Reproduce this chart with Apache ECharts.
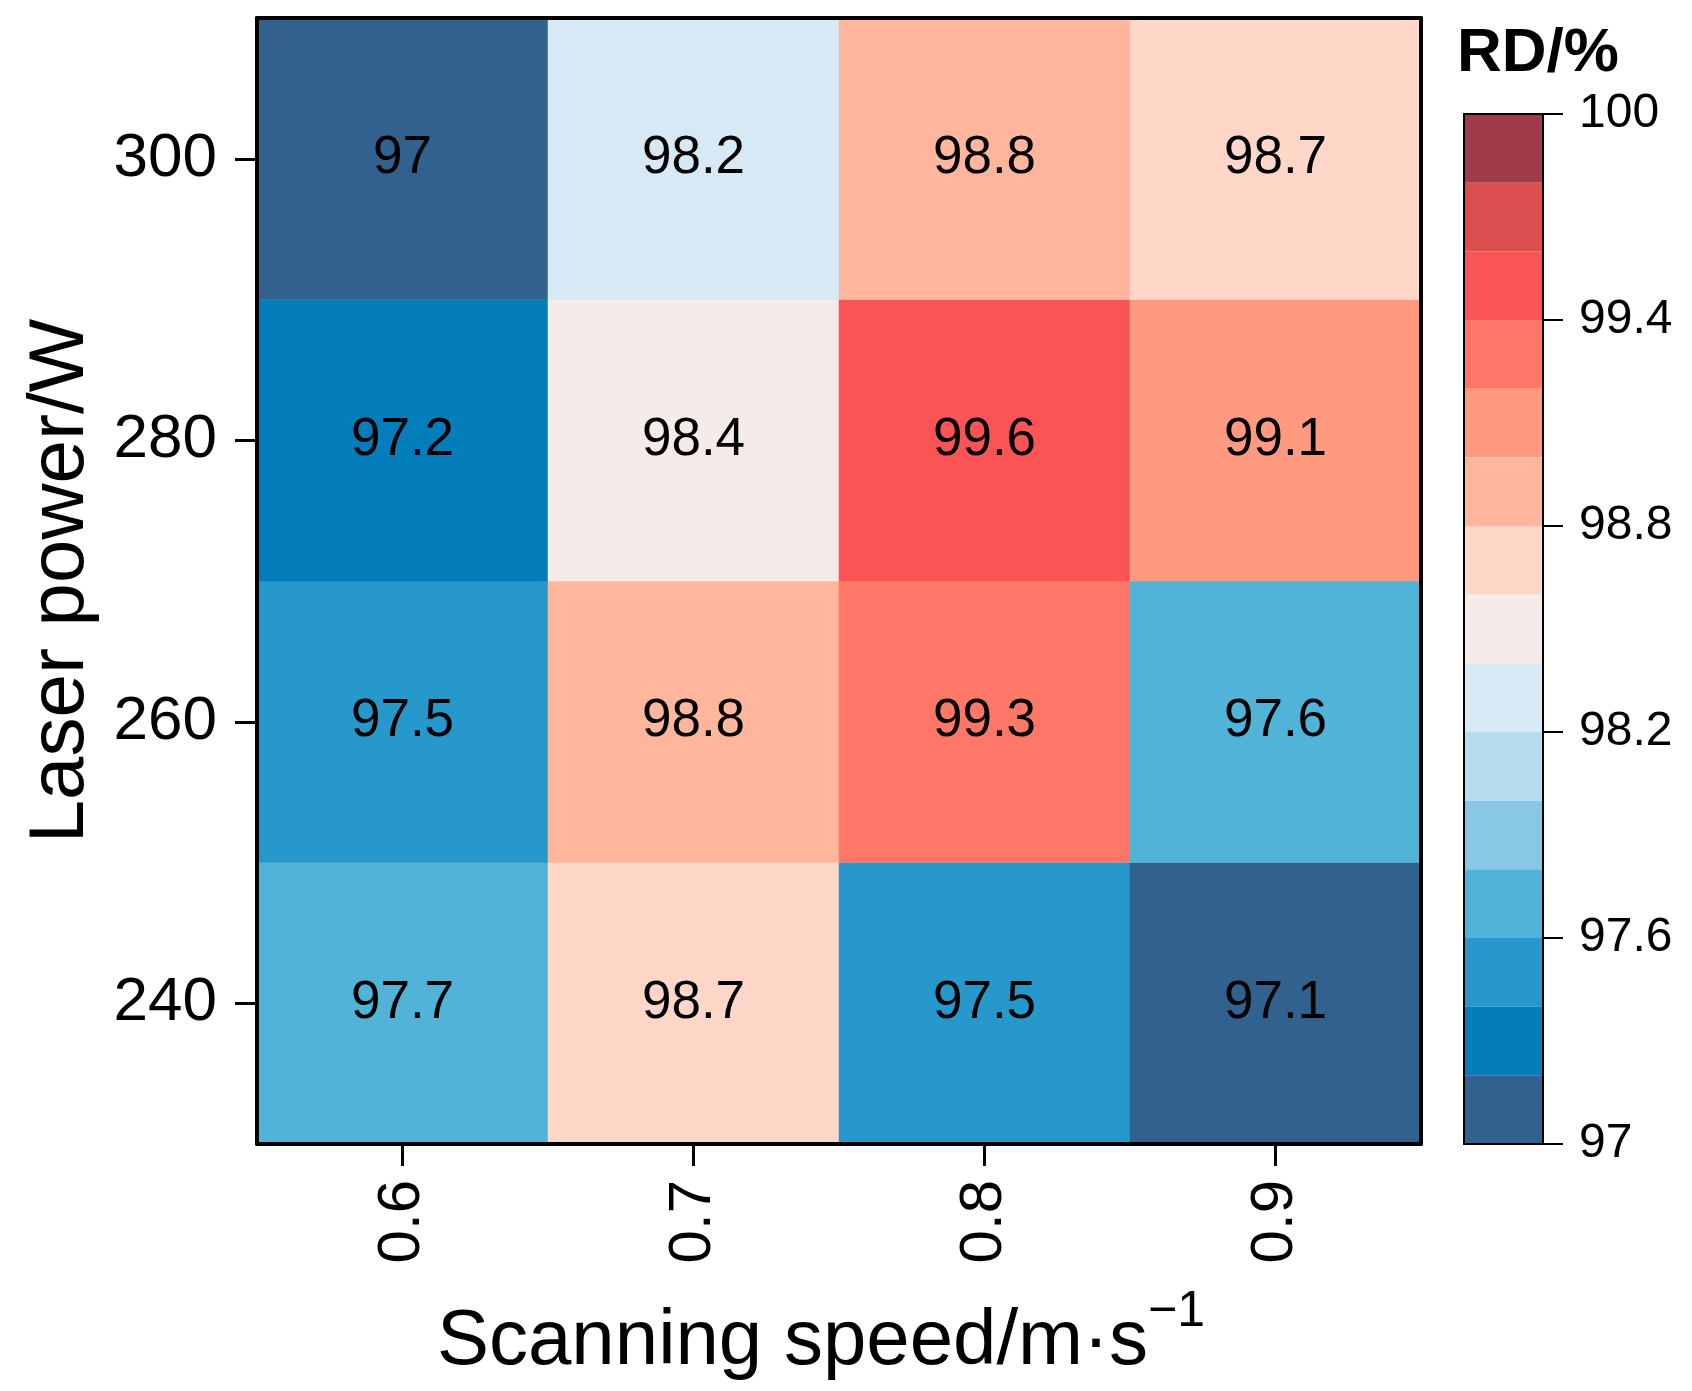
<!DOCTYPE html>
<html>
<head>
<meta charset="utf-8">
<title>RD heatmap</title>
<script src="https://cdn.jsdelivr.net/npm/echarts@6.0.0/dist/echarts.min.js"></script>
<style>
  html, body { margin: 0; padding: 0; background: #fff; }
  #chart { width: 1692px; height: 1391px; }
</style>
</head>
<body>
<div id="chart"></div>
<script>
// 数据
const speeds = ['0.6', '0.7', '0.8', '0.9'];
const powers = ['240', '260', '280', '300'];
const rd240 = [97.7, 98.7, 97.5, 97.1];
const rd260 = [97.5, 98.8, 99.3, 97.6];
const rd280 = [97.2, 98.4, 99.59, 99.1];
const rd300 = [97, 98.2, 98.8, 98.7];
const levelBounds = [97, 97.2, 97.4, 97.6, 97.8, 98, 98.2, 98.4, 98.6, 98.8, 99, 99.2, 99.4, 99.6, 99.8, 100];
const levelColors = [
  '#31628f', '#037eba', '#2798cc', '#52b3d9', '#88c8e4', '#b5dcee', '#d6e9f5', '#f5ecea',
  '#ffd7c8', '#ffb69c', '#ff9a80', '#ff7766', '#fa5454', '#db4d4f', '#a03c4a'
];
const colorTicks = [97, 97.6, 98.2, 98.8, 99.4, 100];

const FONT = '"Liberation Sans", Arial, sans-serif';

// 热图数据 [x, y, value]
const rows = [rd240, rd260, rd280, rd300];
const heatData = [];
rows.forEach((row, yi) => {
  row.forEach((v, xi) => heatData.push([xi, yi, v]));
});

// 色阶分段
const pieces = levelColors.map((c, i) => {
  const p = { gte: levelBounds[i], color: c };
  if (i === levelColors.length - 1) p.lte = levelBounds[i + 1];
  else p.lt = levelBounds[i + 1];
  return p;
});

const chart = echarts.init(document.getElementById('chart'));

const frameLine = { show: true, lineStyle: { color: '#000', width: 4 } };
const tickStyle = { show: true, alignWithLabel: true, length: 22, lineStyle: { color: '#000', width: 3 } };

// 色条位置
const BAR = { left: 1464, top: 114, width: 79, height: 1030 };
const BAR_TICK = 20;

chart.setOption({
  backgroundColor: '#fff',
  animation: false,
  textStyle: { fontFamily: FONT },
  title: {
    text: 'RD/%',
    left: 1452,
    top: 18,
    textStyle: { fontFamily: FONT, fontSize: 62, fontWeight: 'bold', color: '#000' }
  },
  grid: [
    { left: 257, top: 18, width: 1164, height: 1126, containLabel: false, outerBoundsMode: 'none' },
    // 色条刻度区：分隔线当作刻度
    { left: BAR.left + BAR.width, top: BAR.top, width: BAR_TICK, height: BAR.height, containLabel: false, outerBoundsMode: 'none' }
  ],
  xAxis: [
    {
      type: 'category',
      data: speeds,
      gridIndex: 0,
      position: 'bottom',
      z: 10,
      axisLine: frameLine,
      axisTick: tickStyle,
      axisLabel: { rotate: 90, margin: 36, fontSize: 60, color: '#000', fontFamily: FONT },
      splitLine: { show: false },
      name: 'Scanning speed/m·s{sup|−1}',
      nameLocation: 'middle',
      nameGap: 143,
      nameTextStyle: {
        fontSize: 78, color: '#000', fontFamily: FONT, lineHeight: 110,
        padding: [0, 36, 0, 0],
        rich: { sup: { fontSize: 50, verticalAlign: 'top', lineHeight: 50, color: '#000', fontFamily: FONT } }
      }
    },
    {
      type: 'category',
      data: speeds,
      gridIndex: 0,
      position: 'top',
      z: 10,
      axisLine: frameLine,
      axisTick: { show: false },
      axisLabel: { show: false }
    },
    {
      type: 'value',
      gridIndex: 1,
      show: false
    }
  ],
  yAxis: [
    {
      type: 'category',
      data: powers,
      gridIndex: 0,
      position: 'left',
      z: 10,
      axisLine: frameLine,
      axisTick: tickStyle,
      axisLabel: { margin: 40, fontSize: 62, color: '#000', fontFamily: FONT },
      splitLine: { show: false },
      name: 'Laser power/W',
      nameLocation: 'middle',
      nameGap: 157,
      nameTextStyle: { fontSize: 78, color: '#000', fontFamily: FONT }
    },
    {
      type: 'category',
      data: powers,
      gridIndex: 0,
      position: 'right',
      z: 10,
      axisLine: frameLine,
      axisTick: { show: false },
      axisLabel: { show: false }
    },
    {
      // 色条刻度
      type: 'value',
      gridIndex: 1,
      position: 'right',
      min: colorTicks[0],
      max: colorTicks[colorTicks.length - 1],
      interval: colorTicks[1] - colorTicks[0],
      axisLine: { show: false },
      axisTick: { show: false },
      axisLabel: {
        margin: 16, fontSize: 48, color: '#000', fontFamily: FONT,
        formatter: v => String(Math.round(v * 10) / 10)
      },
      splitLine: { show: true, lineStyle: { color: '#000', width: 2, type: 'solid' } }
    }
  ],
  visualMap: {
    type: 'piecewise',
    pieces: pieces,
    seriesIndex: 0,
    orient: 'vertical',
    left: BAR.left,
    top: BAR.top,
    padding: 0,
    itemGap: 0,
    itemWidth: BAR.width,
    itemHeight: BAR.height / levelColors.length,
    itemSymbol: 'rect',
    showLabel: false,
    hoverLink: false,
    selectedMode: false
  },
  graphic: [
    {
      type: 'rect',
      z: 100,
      shape: { x: BAR.left, y: BAR.top, width: BAR.width, height: BAR.height },
      style: { fill: 'none', stroke: '#000', lineWidth: 2 }
    }
  ],
  series: [
    {
      type: 'heatmap',
      xAxisIndex: 0,
      yAxisIndex: 0,
      data: heatData,
      label: {
        show: true,
        fontSize: 53,
        color: '#000',
        fontFamily: FONT,
        formatter: p => String(Math.round(p.value[2] * 10) / 10)
      },
      itemStyle: { borderWidth: 0 },
      emphasis: { disabled: true }
    }
  ]
});
</script>
</body>
</html>
